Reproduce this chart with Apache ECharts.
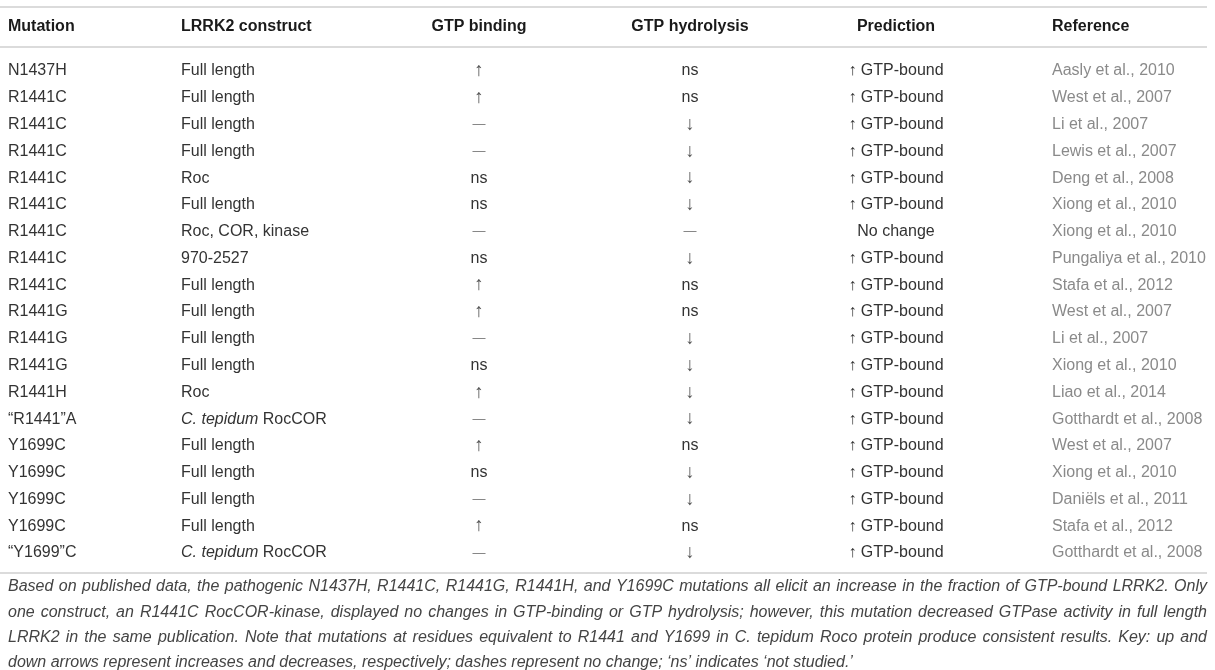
<!DOCTYPE html>
<html><head><meta charset="utf-8">
<script src="https://cdn.jsdelivr.net/npm/echarts@6/dist/echarts.min.js"></script>
<style>html,body{margin:0;padding:0;background:#fff}#c{width:1215px;height:670px}</style>
</head><body><div id="c"></div>
<script>
var headers = ['Mutation', 'LRRK2 construct', 'GTP binding', 'GTP hydrolysis', 'Prediction', 'Reference'];
var mutation = ['N1437H','R1441C','R1441C','R1441C','R1441C','R1441C','R1441C','R1441C','R1441C','R1441G','R1441G','R1441G','R1441H','\u201cR1441\u201dA','Y1699C','Y1699C','Y1699C','Y1699C','\u201cY1699\u201dC'];
var construct = ['Full length','Full length','Full length','Full length','Roc','Full length','Roc, COR, kinase','970-2527','Full length','Full length','Full length','Full length','Roc','C. tepidum RocCOR','Full length','Full length','Full length','Full length','C. tepidum RocCOR'];
var gtpBinding = ['\u2191','\u2191','\u2014','\u2014','ns','ns','\u2014','ns','\u2191','\u2191','\u2014','ns','\u2191','\u2014','\u2191','ns','\u2014','\u2191','\u2014'];
var gtpHydrolysis = ['ns','ns','\u2193','\u2193','\u2193','\u2193','\u2014','\u2193','ns','ns','\u2193','\u2193','\u2193','\u2193','ns','\u2193','\u2193','ns','\u2193'];
var prediction = ['\u2191 GTP-bound','\u2191 GTP-bound','\u2191 GTP-bound','\u2191 GTP-bound','\u2191 GTP-bound','\u2191 GTP-bound','No change','\u2191 GTP-bound','\u2191 GTP-bound','\u2191 GTP-bound','\u2191 GTP-bound','\u2191 GTP-bound','\u2191 GTP-bound','\u2191 GTP-bound','\u2191 GTP-bound','\u2191 GTP-bound','\u2191 GTP-bound','\u2191 GTP-bound','\u2191 GTP-bound'];
var reference = ['Aasly et al., 2010','West et al., 2007','Li et al., 2007','Lewis et al., 2007','Deng et al., 2008','Xiong et al., 2010','Xiong et al., 2010','Pungaliya et al., 2010','Stafa et al., 2012','West et al., 2007','Li et al., 2007','Xiong et al., 2010','Liao et al., 2014','Gotthardt et al., 2008','West et al., 2007','Xiong et al., 2010','Dani\u00ebls et al., 2011','Stafa et al., 2012','Gotthardt et al., 2008'];
var captionLines = [
 'Based on published data, the pathogenic N1437H, R1441C, R1441G, R1441H, and Y1699C mutations all elicit an increase in the fraction of GTP-bound LRRK2. Only',
 'one construct, an R1441C RocCOR-kinase, displayed no changes in GTP-binding or GTP hydrolysis; however, this mutation decreased GTPase activity in full length',
 'LRRK2 in the same publication. Note that mutations at residues equivalent to R1441 and Y1699 in C. tepidum Roco protein produce consistent results. Key: up and',
 'down arrows represent increases and decreases, respectively; dashes represent no change; \u2018ns\u2019 indicates \u2018not studied.\u2019'
];

var columns = [mutation, construct, gtpBinding, gtpHydrolysis, prediction, reference];
var rowLabels = mutation.map(function (_, i) { return 'r' + i; });

// layout / style config
var FONT = '"Liberation Sans", Arial, Helvetica, sans-serif';
var colAnchor = [8, 181, 479, 690, 896, 1052];
var colAlign = ['left', 'left', 'center', 'center', 'center', 'left'];
var colColor = ['#333', '#333', '#333', '#333', '#333', '#8a8a8a'];
var CAP_FONT = 'italic 16px ' + FONT;
var CAP_LEFT = 8, CAP_RIGHT = 1207;

var cells = [];
columns.forEach(function (col, c) {
  col.forEach(function (v, r) { cells.push([c, r]); });
});

function cellStyle(c, r) {
  var t = columns[c][r];
  var s = { text: t, fill: colColor[c], font: '16px ' + FONT, align: colAlign[c], verticalAlign: 'middle' };
  if (c === 1 && t.indexOf('C. tepidum') === 0) {
    s.text = '{i|C. tepidum}' + t.slice(10);
    s.rich = { i: { fontStyle: 'italic', fontSize: 16, fontFamily: FONT, fill: colColor[c] } };
  }
  if (t === '\u2191' || t === '\u2193') {
    s.font = '19px ' + FONT;
    s.fill = '#555';
  }
  if (t === '\u2014') {
    s.font = '13px ' + FONT;
    s.fill = '#777';
  }
  return s;
}

// justified caption: word positions from canvas text measurement
var mctx = document.createElement('canvas').getContext('2d');
mctx.font = CAP_FONT;
var capGraphics = [];
captionLines.forEach(function (line, li) {
  var y = 587 + li * 25.3;
  var words = line.split(' ');
  var last = li === captionLines.length - 1;
  var widths = words.map(function (w) { return mctx.measureText(w).width; });
  var total = widths.reduce(function (a, b) { return a + b; }, 0);
  var gap = last ? mctx.measureText(' ').width : (CAP_RIGHT - CAP_LEFT - total) / (words.length - 1);
  var x = CAP_LEFT;
  words.forEach(function (w, wi) {
    capGraphics.push({ type: 'text', x: x, y: y, style: { text: w, fill: '#444', font: CAP_FONT, verticalAlign: 'middle' } });
    x += widths[wi] + gap;
  });
});

var chart = echarts.init(document.getElementById('c'));
chart.setOption({
  animation: false,
  grid: { left: 0, right: 0, top: 57.6, height: 508.8 },
  xAxis: { type: 'category', data: headers, show: false },
  yAxis: { type: 'category', data: rowLabels, inverse: true, show: false },
  series: [{
    type: 'custom',
    data: cells,
    renderItem: function (params, api) {
      var c = api.value(0), r = api.value(1);
      var p = api.coord([c, r]);
      return { type: 'text', x: colAnchor[c], y: p[1], style: cellStyle(c, r) };
    }
  }, {
    type: 'custom',
    data: headers.map(function (h, i) { return [i, 0]; }),
    renderItem: function (params, api) {
      var c = api.value(0);
      var p = api.coord([c, 0]);
      return {
        type: 'text', x: colAnchor[c], y: p[1] - 44,
        style: { text: headers[c], fill: '#1a1a1a', font: 'bold 16px ' + FONT, align: colAlign[c], verticalAlign: 'middle' }
      };
    }
  }],
  graphic: [
    { type: 'line', shape: { x1: 0, y1: 7, x2: 1207, y2: 7 }, style: { stroke: '#cfcfcf', lineWidth: 1.5 } },
    { type: 'line', shape: { x1: 0, y1: 47, x2: 1207, y2: 47 }, style: { stroke: '#cfcfcf', lineWidth: 1.5 } },
    { type: 'line', shape: { x1: 0, y1: 573, x2: 1207, y2: 573 }, style: { stroke: '#cfcfcf', lineWidth: 1.5 } }
  ].concat(capGraphics)
});
</script>
</body></html>
